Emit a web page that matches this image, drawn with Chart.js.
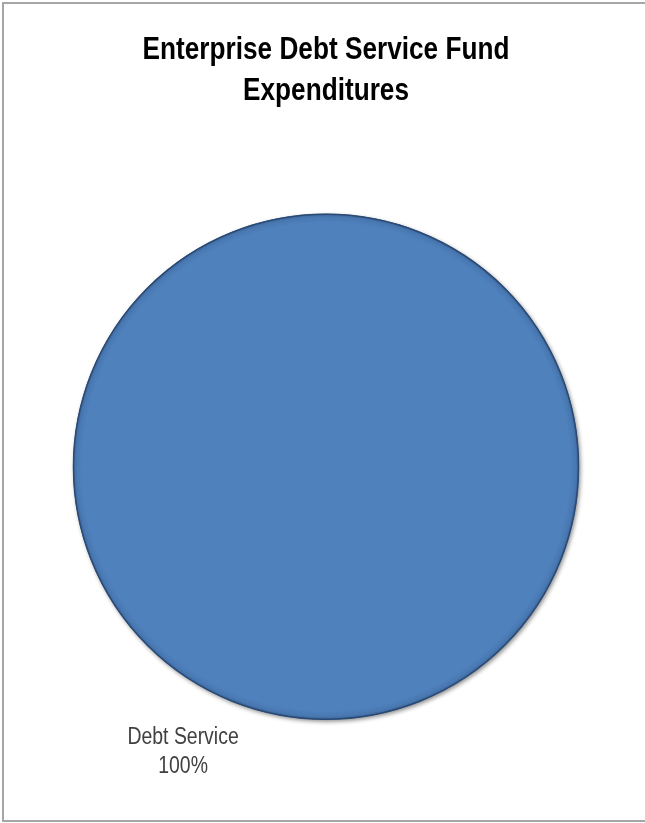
<!DOCTYPE html>
<html>
<head>
<meta charset="utf-8">
<script src="https://cdn.jsdelivr.net/npm/chart.js@4.4.1/dist/chart.umd.min.js"></script>
<style>
  html, body { margin: 0; padding: 0; background: #ffffff; overflow: hidden; }
  #wrap { width: 645px; height: 823px; position: relative; }
  canvas { display: block; }
</style>
</head>
<body>
<div id="wrap"><canvas id="chart" width="645" height="823"></canvas></div>
<script>
// Expenditure categories and amounts (share of total)
const categories = ['Debt Service'];
const amounts = [100];
const sliceColors = ['#4F81BD'];
const titleLines = ['Enterprise Debt Service Fund', 'Expenditures'];

const FONT = '"Liberation Sans", Arial, sans-serif';
const NARROW = 0.845; // horizontal squeeze giving a narrow face

// Frame along the top, left and bottom edges (open on the right)
const framePlugin = {
  id: 'frame',
  beforeDraw(chart) {
    const ctx = chart.ctx;
    ctx.save();
    ctx.fillStyle = '#ffffff';
    ctx.fillRect(0, 0, chart.width, chart.height);
    ctx.strokeStyle = '#a6a6a6';
    ctx.lineWidth = 2;
    ctx.beginPath();
    ctx.moveTo(chart.width + 5, 3);
    ctx.lineTo(3, 3);
    ctx.lineTo(3, 821);
    ctx.lineTo(chart.width + 5, 821);
    ctx.stroke();
    ctx.restore();
  }
};

// Draw the title block through a horizontal squeeze around its centre
const narrowTitlePlugin = {
  id: 'narrowTitle',
  afterLayout(chart) {
    const block = chart.titleBlock;
    if (!block || block._narrowed) return;
    const draw = block.draw.bind(block);
    block.draw = function () {
      const ctx = chart.ctx;
      const cx = (block.left + block.right) / 2;
      ctx.save();
      ctx.translate(cx, 0);
      ctx.scale(NARROW, 1);
      ctx.translate(-cx, 0);
      draw();
      ctx.restore();
    };
    block._narrowed = true;
  }
};

// Soft drop shadow under the pie and a darker rim for the bevel look
const bevelPlugin = {
  id: 'bevel',
  beforeDatasetsDraw(chart) {
    const ctx = chart.ctx;
    ctx.save();
    ctx.shadowColor = 'rgba(0,0,0,0.45)';
    ctx.shadowBlur = 4;
    ctx.shadowOffsetX = 1.5;
    ctx.shadowOffsetY = 2;
  },
  afterDatasetsDraw(chart) {
    const ctx = chart.ctx;
    ctx.restore();
    const arc = chart.getDatasetMeta(0).data[0];
    if (!arc) return;
    const { x, y, outerRadius } = arc.getProps(['x', 'y', 'outerRadius'], true);
    ctx.save();
    const g = ctx.createRadialGradient(x, y, outerRadius - 9, x, y, outerRadius);
    g.addColorStop(0, 'rgba(20,45,80,0)');
    g.addColorStop(0.6, 'rgba(20,45,80,0.10)');
    g.addColorStop(1, 'rgba(20,45,80,0.35)');
    ctx.fillStyle = g;
    ctx.beginPath();
    ctx.arc(x, y, outerRadius, 0, Math.PI * 2);
    ctx.fill();
    ctx.lineWidth = 1.5;
    ctx.strokeStyle = '#2a4a74';
    ctx.beginPath();
    ctx.arc(x, y, outerRadius - 0.5, 0, Math.PI * 2);
    ctx.stroke();
    ctx.restore();
  }
};

// Category name and percentage placed below-left of the pie
const sliceLabelPlugin = {
  id: 'sliceLabel',
  afterDraw(chart) {
    const meta = chart.getDatasetMeta(0);
    const values = chart.data.datasets[0].data;
    const total = values.reduce((a, b) => a + b, 0);
    const ctx = chart.ctx;
    meta.data.forEach((arc, i) => {
      const { x, y, outerRadius } = arc.getProps(['x', 'y', 'outerRadius'], true);
      const lx = x - outerRadius * 0.565;
      const ly = y + outerRadius * 1.095;
      const pct = Math.round(values[i] / total * 100) + '%';
      ctx.save();
      ctx.translate(lx, ly);
      ctx.scale(NARROW, 1);
      ctx.fillStyle = '#404040';
      ctx.font = '23px ' + FONT;
      ctx.textAlign = 'center';
      ctx.textBaseline = 'alphabetic';
      ctx.fillText(chart.data.labels[i], 0, 0);
      ctx.fillText(pct, 0, 29);
      ctx.restore();
    });
  }
};

new Chart(document.getElementById('chart'), {
  type: 'pie',
  data: {
    labels: categories,
    datasets: [{
      data: amounts,
      backgroundColor: sliceColors,
      borderWidth: 0
    }]
  },
  options: {
    responsive: false,
    animation: false,
    events: [],
    layout: { padding: { left: 73, right: 66, top: 0, bottom: 103 } },
    plugins: {
      legend: { display: false },
      tooltip: { enabled: false },
      title: {
        display: true,
        text: titleLines,
        color: '#000000',
        font: { family: FONT, size: 31, weight: 'bold', lineHeight: 1.33 },
        padding: { top: 30, bottom: 101 }
      }
    }
  },
  plugins: [framePlugin, narrowTitlePlugin, bevelPlugin, sliceLabelPlugin]
});
</script>
</body>
</html>
